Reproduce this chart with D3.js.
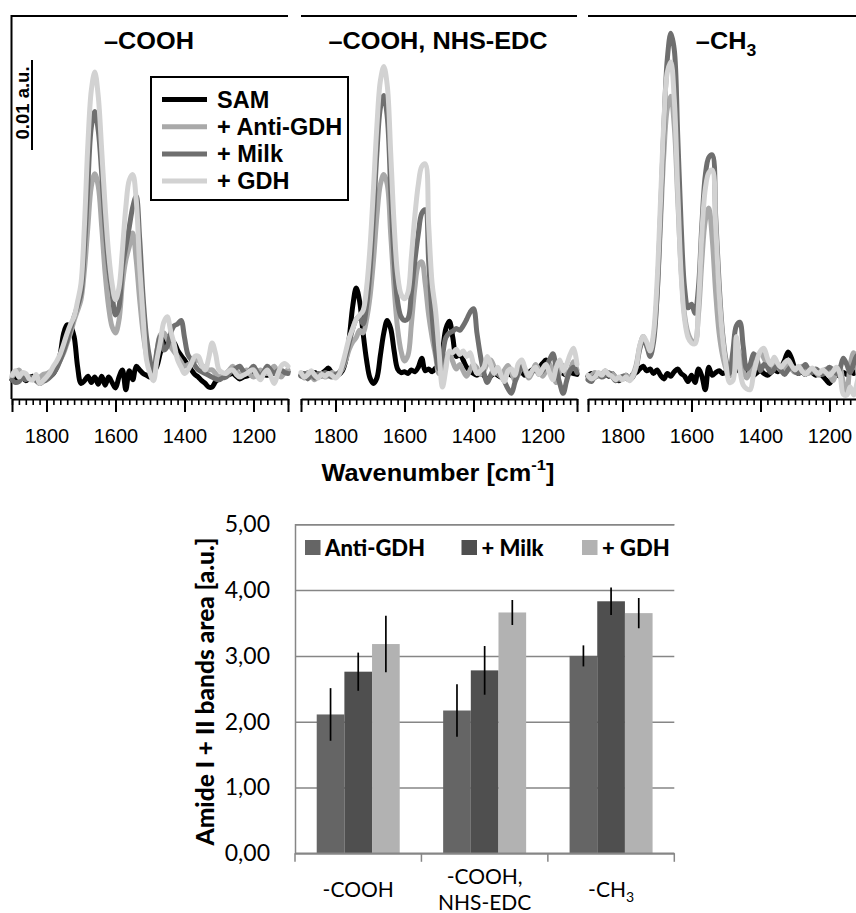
<!DOCTYPE html>
<html><head><meta charset="utf-8">
<script src="https://cdn.jsdelivr.net/npm/d3@7/dist/d3.min.js"></script>
<style>html,body{margin:0;padding:0;background:#fff;} svg{display:block;}</style>
</head><body>
<svg id="chart" width="856" height="913"></svg>
<script>
// ---------- spectra data (absorbance in 1e-3 a.u.) ----------
const wavenumbers = [1900,1890,1880,1870,1860,1850,1840,1830,1820,1810,
1800,1790,1780,1770,1760,1750,1740,1730,1720,1710,
1700,1690,1680,1670,1660,1650,1640,1630,1620,1610,
1600,1590,1580,1570,1560,1550,1540,1530,1520,1510,
1500,1490,1480,1470,1460,1450,1440,1430,1420,1410,
1400,1390,1380,1370,1360,1350,1340,1330,1320,1310,
1300,1290,1280,1270,1260,1250,1240,1230,1220,1210,
1200,1190,1180,1170,1160,1150,1140,1130,1120,1110,1100];

const coohSAM = [-0.2,0,-0.1,0.1,-0.3,0,0.2,-0.1,-0.3,0,
-0.1,0.2,0.5,1.3,2.7,5.0,5.9,5.7,4.6,1.3,
-0.6,-0.3,0.2,-0.5,0.1,-0.7,0.2,-0.8,0.1,-0.5,
-1.1,0.1,0.9,-1.3,0.8,-0.2,1.3,0.9,0.5,0.3,
0.1,0.6,1.3,2.8,3.9,4.6,4.2,3.9,3.1,2.5,
2.0,1.4,0.9,0.4,0.1,-0.3,-0.6,-1.0,-1.0,-0.4,
-0.1,0.1,0.2,0.4,0.5,0.2,-0.1,0.1,0.2,0.4,
0.5,0.3,0.2,0.4,0.3,0.5,0.5,0.6,0.5,0.6,0.7];
const coohAnti = [0.1,0.6,0.9,0.4,0.3,0,-0.2,0.2,0.1,0.4,
0.5,0.7,0.9,1.3,2.0,2.8,3.9,5.0,6.4,7.5,
8.7,12.0,16.8,21.3,22.7,21.3,16.8,11.6,7.9,5.7,
5.0,6.4,10.5,13.1,14.6,16.1,13.1,8.7,5.0,2.5,
1.0,0.1,3.0,4.8,5.0,4.3,3.5,2.9,2.4,1.8,
1.3,1.5,1.6,1.9,2.0,1.4,1.2,0.9,0.9,0.5,
0.1,0.3,0.5,0.9,1.3,0.8,0.5,0.7,0.9,0.4,
0.1,0.5,0.9,0.6,0.5,0.9,1.3,0.6,0.1,0.6,0.9];
const coohMilk = [-0.2,-0.5,-0.4,0,-0.2,0.1,0,-0.3,-0.6,-0.4,
-0.2,0.1,0.5,1.1,2.0,3.0,4.2,5.5,6.8,8.0,
9.4,14.5,21.6,27.9,29.6,27.5,22.7,16.8,12.4,9.4,
7.0,7.9,12.4,14.6,16.8,19.0,20.2,15.5,9.0,4.5,
2.0,0.4,3.0,4.6,3.1,3.5,5.0,5.8,6.0,6.4,
4.5,2.6,2.0,1.4,0.9,0.7,0.5,0.3,0.1,-0.1,
-0.2,0,0.1,0.5,0.9,1.1,1.3,0.8,0.5,0.9,
1.3,0.7,0.2,0.7,1.3,0.9,0.5,0.8,0.9,0.6,0.5];
const coohGDH = [0.3,0.8,0.1,0.6,0.5,-0.1,-0.2,0.4,-0.6,-0.3,
0.1,0.6,1.3,1.9,2.7,3.8,5.0,6.0,6.8,8.5,
10.5,17.0,26.0,32.0,34.0,31.3,25.3,19.0,13.9,10.5,
8.7,10.0,14.2,19.0,22.0,22.6,19.8,12.4,6.8,2.0,
0.5,-0.3,2.0,4.0,6.2,6.8,5.2,3.8,2.0,1.2,
0.5,0.9,1.6,2.4,2.4,1.5,0.9,2.2,3.9,2.7,
0.9,0.6,0.5,0.8,0.9,0.4,0.1,0.3,0.5,0.8,
0.9,0.3,-0.2,0.5,0.9,0.2,-0.6,0.4,1.3,1.6,1.3];

const nhsSAM = [0.3,0.5,0.2,0.4,0.6,0.3,0.5,0.8,1.1,0.5,
0.3,0.4,0.8,2.0,4.5,8.0,10.0,8.5,5.0,2.0,
0,-0.6,0,2.5,5.0,6.4,5.5,3.0,1.0,0.6,
0.7,0.5,0.9,0.7,1.2,2.2,0.8,1.0,0.7,1.1,
1.4,3.0,5.5,6.3,4.5,2.4,2.7,2.0,1.2,0.8,
0.5,0.3,0.5,0.3,-0.2,0.2,0.5,0.3,0.1,0.4,
0.5,0.3,0.2,0.5,0.6,0.3,0.6,0.9,1.1,1.2,
1.6,2.0,1.2,0.6,0.5,0.8,0.5,0.3,0.6,0.5,0.4];
const nhsAnti = [0.4,0.0,0.6,0.2,-0.2,0.3,0.5,0.1,0.3,0.6,
0.4,0.5,1.0,2.0,3.2,4.0,4.5,5.3,5.0,6.5,
9.0,13.0,18.0,21.5,22.6,21.5,16.0,10.0,5.5,3.0,
1.9,2.5,6.0,10.0,12.5,12.9,10.5,7.0,4.5,2.5,
0.5,1.0,2.2,2.8,1.8,1.0,1.5,0.8,0.2,0.9,
1.5,1.1,0.4,0.8,1.6,2.0,1.2,0.5,0.2,0.9,
1.4,0.6,-0.3,0.4,1.2,0.8,0.0,0.6,1.5,0.9,
0.2,0.8,1.6,0.5,-0.5,0.6,1.4,0.3,0.9,1.8,0.9];
const nhsMilk = [0.2,0.5,-0.1,0.4,0.0,0.5,0.2,0.6,0.3,0.1,
0.4,0.6,1.2,2.5,4.0,5.5,6.5,6.8,6.0,8.0,
12.0,18.0,25.0,30.0,31.4,29.0,21.0,13.0,8.5,6.8,
6.4,6.6,9.5,13.0,16.0,18.3,18.7,13.0,7.0,3.0,
1.0,2.5,4.5,5.0,5.2,5.5,5.3,5.8,6.5,7.3,
7.7,5.0,2.5,0.6,-0.5,0.3,1.0,0.6,0.2,-0.4,
-1.2,-1.7,-0.5,0.6,1.3,0.8,0.2,0.7,1.0,0.4,
0.8,1.3,2.0,2.7,1.0,-0.6,-1.7,-0.3,0.8,1.2,0.6];
const nhsGDH = [0.6,0.1,0.4,0.8,0.3,0.0,0.4,0.2,0.5,0.3,
0.0,0.4,1.5,3.0,4.5,5.5,6.5,7.0,7.5,10.0,
14.5,21.0,28.0,33.0,34.6,32.5,25.0,17.0,11.5,9.3,
8.8,9.5,13.5,18.0,21.5,23.5,23.8,17.0,10.5,7.5,
3.0,-1.0,1.0,3.0,2.8,3.2,2.6,3.0,2.4,2.8,
1.5,0.5,0.8,1.2,2.4,1.5,0.5,1.2,0.3,-0.4,
0.8,1.0,0.3,1.6,2.0,1.0,0.2,0.8,1.2,0.4,
1.0,1.5,0.6,-0.2,1.2,2.0,0.8,1.5,2.6,3.3,1.5];

const ch3SAM = [0.2,0.5,0.1,0.4,0.3,0.6,0.2,0.5,0,-0.3,
0,0.3,-0.2,0.4,0.6,1.0,1.3,0.8,1.0,0.5,
0.9,0.3,-0.1,0.5,0.2,0.7,1.0,0.5,0.2,-0.4,
0.3,-0.5,1.0,0.2,-1.3,1.2,0.3,0.6,0.8,0.5,
0.6,0.4,0.8,1.1,0.7,0.4,0.9,0.6,0.3,0.6,
0.8,0.5,0.3,0.6,0.9,0.7,1.2,2.0,2.9,2.2,
1.0,0.5,0.7,0.4,0.8,0.6,0.3,0.5,0.2,-0.2,
-0.6,0.0,0.4,0.2,0.6,0.4,0.7,0.5,0.8,0.6,0.5];
const ch3Anti = [0,0.3,0.6,0.2,0.4,0.8,0.3,0.5,0.1,-0.2,
0.1,0.3,0.0,0.4,1.5,3.5,4.6,3.5,2.8,4.5,
9.0,17.0,25.0,30.0,31.3,28.0,20.0,12.0,7.0,5.0,
4.2,4.0,7.0,13.0,17.5,18.9,15.5,9.5,5.0,2.5,
1.0,0.2,1.5,3.5,2.5,0.8,0.0,0.8,1.8,2.4,
2.8,2.2,1.4,1.0,1.6,1.2,0.8,1.1,1.5,1.0,
0.6,0.9,1.3,0.8,0.5,0.9,0.6,0.3,0.7,1.0,
0.4,-0.3,0.6,1.2,-0.5,-1.5,1.5,2.8,1.0,-1.0,0.5];
const ch3Milk = [-0.2,-0.4,0.2,0.5,0.1,0.3,0.6,0.2,-0.3,-0.1,
0.2,0.0,-0.2,0.1,1.2,3.2,4.3,3.6,2.4,4.0,
9.0,18.0,28.0,35.5,38.3,36.5,27.0,17.0,10.0,7.8,
8.2,7.2,10.0,17.0,22.5,24.5,24.8,18.0,10.5,5.0,
2.0,0.5,3.0,5.8,6.2,3.5,1.0,1.5,2.7,2.0,
0.8,1.5,1.2,0.6,1.0,1.4,0.8,0.4,0.9,1.3,
0.7,0.5,1.0,1.5,0.9,0.6,1.0,0.7,0.4,0.8,
1.2,0.9,0.5,1.0,2.2,1.5,0.6,1.6,2.5,1.2,0.8];
const ch3GDH = [0.3,-0.1,0.1,0.6,0.3,0.8,0.4,0.2,-0.2,0.1,
-0.2,0.1,-0.3,0.2,1.3,3.6,4.6,4.0,3.0,5.0,
10.5,19.5,28.5,34.0,35.1,31.0,21.0,11.5,6.5,4.5,
3.9,3.8,8.0,16.0,21.0,22.8,23.1,17.0,9.5,4.5,
1.5,-0.5,-0.3,4.6,1.0,-0.8,-1.2,-1.3,0.5,2.0,
3.0,3.3,2.2,1.5,2.3,1.6,1.2,1.7,2.0,1.4,
0.9,1.3,0.8,0.4,0.8,1.1,0.7,0.5,0.9,0.6,
0.3,0.7,1.2,0.5,-1.8,-1.9,-1.0,-1.9,-0.5,1.0,0.5];

const seriesNames = ["SAM", "+ Anti-GDH", "+ Milk", "+ GDH"];
const seriesColors = ["#000000", "#a9a9a9", "#6f6f6f", "#d2d2d2"];
const panelTitles = ["–COOH", "–COOH, NHS-EDC", "–CH"];
const xLabelTicks = [1800, 1600, 1400, 1200];

// ---------- bar chart data ----------
const barCategories = ["-COOH", "-COOH, NHS-EDC", "-CH3"];
const barSeries = ["Anti-GDH", "+ Milk", "+ GDH"];
const barColors = ["#656565", "#4f4f4f", "#b2b2b2"];
const antiGdhArea = [2.11, 2.17, 3.00];
const milkArea = [2.76, 2.78, 3.83];
const gdhArea = [3.18, 3.66, 3.65];
const antiGdhErr = [0.40, 0.40, 0.16];
const milkErr = [0.29, 0.37, 0.21];
const gdhErr = [0.43, 0.19, 0.23];
const barYTicks = [0, 1, 2, 3, 4, 5];

// ---------- drawing ----------
const ARIAL = "'Liberation Sans', Arial, Helvetica, sans-serif";
const CAL = "Lato, 'Open Sans', sans-serif";
const svg = d3.select("#chart");
svg.append("rect").attr("width", 856).attr("height", 913).attr("fill", "#fff");

const panels = [
  {left: 12, title: panelTitles[0], data: [coohSAM, coohAnti, coohMilk, coohGDH]},
  {left: 301, title: panelTitles[1], data: [nhsSAM, nhsAnti, nhsMilk, nhsGDH]},
  {left: 588, title: panelTitles[2], data: [ch3SAM, ch3Anti, ch3Milk, ch3GDH]}
];
const panelWidth = 276;
const axisY = 399, topY = 16;
const yS = d3.scaleLinear().domain([0, 10]).range([378, 288]);

panels.forEach((p, pi) => {
  const x = d3.scaleLinear().domain([1900, 1100]).range([p.left, p.left + panelWidth]);
  const g = svg.append("g");
  g.append("line").attr("x1", p.left).attr("x2", p.left + panelWidth)
    .attr("y1", topY).attr("y2", topY).attr("stroke", "#000").attr("stroke-width", 2.2);
  if (pi === 0) {
    g.append("line").attr("x1", p.left - 0.5).attr("x2", p.left - 0.5)
      .attr("y1", topY - 1).attr("y2", axisY).attr("stroke", "#000").attr("stroke-width", 2);
  }
  const line = d3.line().x((d, j) => x(wavenumbers[j])).y(d => yS(d)).curve(d3.curveCatmullRom);
  p.data.forEach((arr, si) => {
    g.append("path").attr("d", line(arr)).attr("fill", "none")
      .attr("stroke", seriesColors[si]).attr("stroke-width", 5)
      .attr("stroke-linejoin", "round").attr("stroke-linecap", "round");
  });
  const minor = d3.range(1900, 1099, -20);
  const minorAxis = d3.axisBottom(x).tickValues(minor).tickSize(6).tickSizeOuter(0).tickFormat("");
  const ma = g.append("g").attr("transform", `translate(0,${axisY})`).call(minorAxis);
  ma.select(".domain").attr("stroke", "#000").attr("stroke-width", 2.2);
  ma.selectAll(".tick line").attr("stroke", "#000").attr("stroke-width", 1.6);
  const majorAxis = d3.axisBottom(x).tickValues([1900].concat(xLabelTicks, [1100]))
    .tickSize(13).tickSizeOuter(0).tickPadding(17)
    .tickFormat(d => xLabelTicks.includes(d) ? d : "");
  const mj = g.append("g").attr("transform", `translate(0,${axisY})`).call(majorAxis);
  mj.select(".domain").remove();
  mj.selectAll(".tick line").attr("stroke", "#000").attr("stroke-width", 2);
  mj.selectAll(".tick text").attr("font-family", ARIAL).attr("font-size", 20).attr("fill", "#000");
  const cx = pi === 2 ? 726 : (pi === 0 ? 149 : 438);
  const t = g.append("text").attr("transform", `translate(${cx},49) scale(1.1,1)`)
    .attr("text-anchor", "middle").attr("font-family", ARIAL).attr("font-weight", "bold")
    .attr("font-size", 23).text(p.title);
  if (pi === 2) {
    t.append("tspan").attr("dy", 7).attr("font-size", 16).text("3");
  }
});

// scale bar 0.01 a.u.
svg.append("line").attr("x1", 32).attr("x2", 32).attr("y1", 60).attr("y2", 150)
  .attr("stroke", "#000").attr("stroke-width", 2);
svg.append("text").attr("transform", "translate(28.5,103) rotate(-90)")
  .attr("text-anchor", "middle").attr("font-family", ARIAL).attr("font-weight", "bold")
  .attr("font-size", 18.5).text("0.01 a.u.");

// spectra legend
const lg = svg.append("g");
lg.append("rect").attr("x", 151).attr("y", 77).attr("width", 197).attr("height", 123)
  .attr("fill", "#fff").attr("stroke", "#000").attr("stroke-width", 2);
seriesNames.forEach((n, i) => {
  const yy = 99.5 + i * 27.2;
  lg.append("line").attr("x1", 162).attr("x2", 207).attr("y1", yy).attr("y2", yy)
    .attr("stroke", seriesColors[i]).attr("stroke-width", 5);
  lg.append("text").attr("x", 217).attr("y", yy + 8).attr("font-family", ARIAL)
    .attr("font-weight", "bold").attr("font-size", 23.5).text(n);
});

// x-axis title
const xt = svg.append("text").attr("transform", "translate(438,481) scale(1.1,1)")
  .attr("text-anchor", "middle").attr("font-family", ARIAL).attr("font-weight", "bold")
  .attr("font-size", 23).text("Wavenumber [cm");
xt.append("tspan").attr("dy", -11).attr("font-size", 15).text("-1");
xt.append("tspan").attr("dy", 11).text("]");

// ---------- bar chart ----------
const bx = d3.scaleBand().domain(barCategories).range([295, 674.3]).padding(0);
const groupW = 83;
const bxi = d3.scaleBand().domain(barSeries).range([0, groupW]).padding(0);
const by = d3.scaleLinear().domain([0, 5]).range([853.3, 524.3]);
const bg = svg.append("g");

const gridAxis = d3.axisLeft(by).tickValues(barYTicks).tickSize(-(674.3 - 295)).tickPadding(25)
  .tickFormat(d => d.toFixed(2).replace(".", ","));
const ga = bg.append("g").attr("transform", "translate(295,0)").call(gridAxis);
ga.select(".domain").attr("stroke", "#868686").attr("stroke-width", 1.5);
ga.selectAll(".tick line").attr("stroke", "#868686").attr("stroke-width", 1.5);
ga.selectAll(".tick text").attr("font-family", CAL).attr("font-size", 23).attr("fill", "#000");

const barValues = [antiGdhArea, milkArea, gdhArea];
const barErrs = [antiGdhErr, milkErr, gdhErr];
barCategories.forEach((c, ci) => {
  const gx = bx(c) + (bx.bandwidth() - groupW) / 2;
  barSeries.forEach((s, si) => {
    const v = barValues[si][ci];
    bg.append("rect").attr("x", gx + bxi(s)).attr("width", bxi.bandwidth())
      .attr("y", by(v)).attr("height", by(0) - by(v)).attr("fill", barColors[si]);
  });
});
barCategories.forEach((c, ci) => {
  const gx = bx(c) + (bx.bandwidth() - groupW) / 2;
  barSeries.forEach((s, si) => {
    const v = barValues[si][ci], e = barErrs[si][ci];
    const cxx = gx + bxi(s) + bxi.bandwidth() / 2;
    bg.append("line").attr("x1", cxx).attr("x2", cxx).attr("y1", by(v + e)).attr("y2", by(v - e))
      .attr("stroke", "#000").attr("stroke-width", 1.7);
  });
});
bg.append("line").attr("x1", 295).attr("x2", 674.3).attr("y1", by(0)).attr("y2", by(0))
  .attr("stroke", "#868686").attr("stroke-width", 1.5);
const edges = barCategories.map(c => bx(c)).concat([bx(barCategories[2]) + bx.bandwidth()]);
edges.forEach(ex => {
  bg.append("line").attr("x1", ex).attr("x2", ex).attr("y1", by(0)).attr("y2", by(0) + 8.5)
    .attr("stroke", "#868686").attr("stroke-width", 1.5);
});
const catLabelLines = [["-COOH"], ["-COOH,", "NHS-EDC"], ["-CH"]];
barCategories.forEach((c, ci) => {
  const cx = bx(c) + bx.bandwidth() / 2;
  const lines = catLabelLines[ci];
  const t = bg.append("text").attr("x", cx).attr("text-anchor", "middle")
    .attr("font-family", CAL).attr("font-size", 21).attr("fill", "#000");
  if (lines.length === 1) {
    t.attr("y", 897).text(lines[0]);
    if (ci === 2) t.append("tspan").attr("dy", 5).attr("font-size", 14).text("3");
  } else {
    t.append("tspan").attr("x", cx).attr("y", 884).text(lines[0]);
    t.append("tspan").attr("x", cx).attr("y", 910).text(lines[1]);
  }
});
bg.append("text").attr("transform", "translate(214,691.5) rotate(-90)").attr("text-anchor", "middle")
  .attr("font-family", CAL).attr("font-weight", "900").attr("font-size", 24.5)
  .text("Amide I + II bands area [a.u.]");
const legPos = [305, 461.5, 582];
barSeries.forEach((s, si) => {
  bg.append("rect").attr("x", legPos[si]).attr("y", 540).attr("width", 15.5).attr("height", 15)
    .attr("fill", barColors[si]);
  bg.append("text").attr("x", legPos[si] + 20).attr("y", 555.5).attr("font-family", CAL)
    .attr("font-weight", "900").attr("font-size", 22).text(s);
});
</script>
</body></html>
